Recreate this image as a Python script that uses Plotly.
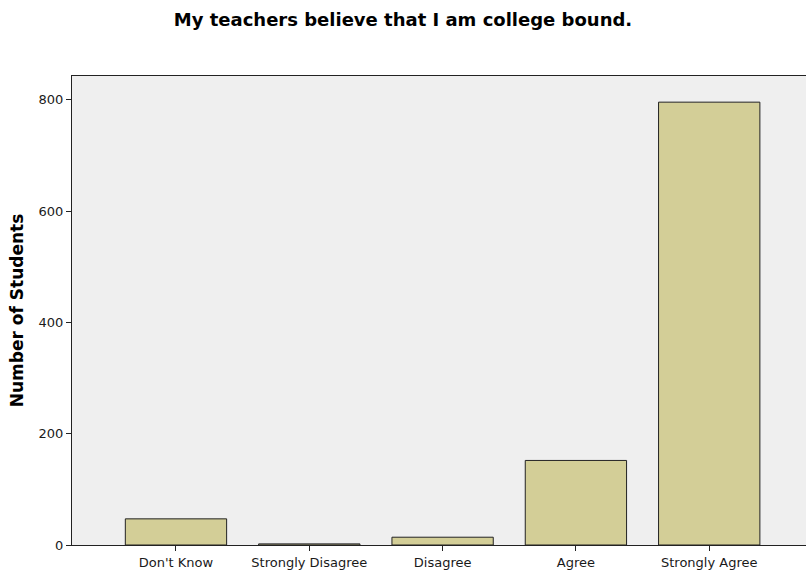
import plotly.graph_objects as go

categories = ["Don't Know", "Strongly Disagree", "Disagree", "Agree", "Strongly Agree"]
counts = [47, 2, 14, 152, 796]
y_ticks = [0, 200, 400, 600, 800]

fig = go.Figure(go.Bar(
    x=list(range(len(categories))),
    y=counts,
    marker=dict(color="#D3CE97", line=dict(color="#222222", width=1)),
    width=0.76,
))

fig.update_layout(
    width=806, height=574,
    margin=dict(l=72, r=0, t=76, b=29, autoexpand=False),
    paper_bgcolor="white",
    plot_bgcolor="#EFEFEF",
    font=dict(family="DejaVu Sans, sans-serif", size=13, color="#1a1a1a"),
    title=dict(text="<b>My teachers believe that I am college bound.</b>",
               x=0.5, xanchor="center", y=1 - 20 / 574, yanchor="middle",
               font=dict(size=18, color="black")),
    showlegend=False,
)
fig.update_xaxes(
    range=[-0.78, 4.726], automargin=False,
    tickmode="array", tickvals=list(range(len(categories))), ticktext=categories,
    ticks="outside", ticklen=5, tickcolor="#222222", tickwidth=1,
    showline=True, linecolor="#222222", linewidth=1, mirror=True,
    showgrid=False, zeroline=False,
)
fig.update_yaxes(
    range=[0, 843], automargin=False,
    tickmode="array", tickvals=y_ticks,
    ticks="outside", ticklen=5, tickcolor="#222222", tickwidth=1,
    showline=True, linecolor="#222222", linewidth=1,
    showgrid=False, zeroline=False,
    title=dict(text="<b>Number of Students</b>", font=dict(size=17, color="black"), standoff=10),
)

fig.write_html("out.html", config={"displayModeBar": False},
               post_script="document.body.style.margin='0';document.body.style.overflow='hidden';")
